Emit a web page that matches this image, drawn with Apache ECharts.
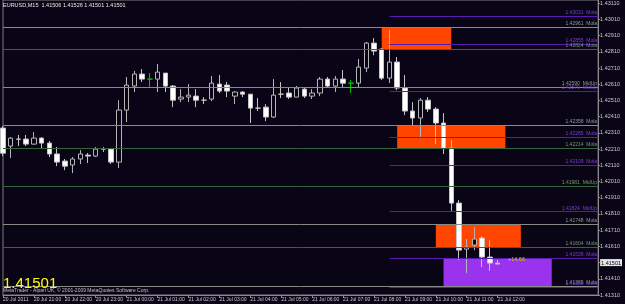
<!DOCTYPE html>
<html>
<head>
<meta charset="utf-8">
<title>EURUSD,M15</title>
<script src="https://cdn.jsdelivr.net/npm/echarts@6/dist/echarts.min.js"></script>
<style>
  html, body { margin: 0; padding: 0; background: #0a0516; }
  #chart { width: 625px; height: 304px; }
</style>
</head>
<body>
<div id="chart"></div>
<script>
// hour labels on the time axis, one every 4 bars (M15)
const tickLabels = ['20 Jul 2011', '20 Jul 21:00', '20 Jul 22:00', '20 Jul 23:00', '21 Jul 00:00', '21 Jul 01:00',
  '21 Jul 02:00', '21 Jul 03:00', '21 Jul 04:00', '21 Jul 05:00', '21 Jul 06:00', '21 Jul 07:00', '21 Jul 08:00',
  '21 Jul 09:00', '21 Jul 10:00', '21 Jul 11:00', '21 Jul 12:00']
const barsPerLabel = 4
const slotCount = 78 // bars + empty chart shift on the right

const open = [1.42340, 1.42229, 1.42272, 1.42272, 1.42241, 1.42278, 1.42247, 1.42180, 1.42136, 1.42112,
  1.42149, 1.42173, 1.42167, 1.42210, 1.42210, 1.42130, 1.42451, 1.42599, 1.42673, 1.42642,
  1.42642, 1.42679, 1.42599, 1.42519, 1.42531, 1.42537, 1.42512, 1.42519, 1.42611, 1.42605,
  1.42537, 1.42562, 1.42549, 1.42463, 1.42469, 1.42408, 1.42549, 1.42556, 1.42531, 1.42580,
  1.42537, 1.42556, 1.42642, 1.42599, 1.42642, 1.42617, 1.42617, 1.42710, 1.42864, 1.42827,
  1.42648, 1.42747, 1.42587, 1.42445, 1.42402, 1.42512, 1.42457, 1.42371, 1.42217, 1.41877,
  1.41593, 1.41618, 1.41661, 1.41544, 1.41506]
const close = [1.42185, 1.42278, 1.42271, 1.42241, 1.42278, 1.42247, 1.42180, 1.42130, 1.42105, 1.42149,
  1.42180, 1.42167, 1.42210, 1.42211, 1.42130, 1.42451, 1.42605, 1.42673, 1.42642, 1.42642,
  1.42685, 1.42599, 1.42512, 1.42531, 1.42543, 1.42512, 1.42512, 1.42617, 1.42568, 1.42568,
  1.42562, 1.42549, 1.42463, 1.42463, 1.42408, 1.42543, 1.42549, 1.42531, 1.42587, 1.42537,
  1.42556, 1.42642, 1.42599, 1.42642, 1.42617, 1.42617, 1.42716, 1.42864, 1.42815, 1.42648,
  1.42747, 1.42587, 1.42445, 1.42402, 1.42512, 1.42457, 1.42371, 1.42217, 1.41877, 1.41587,
  1.41606, 1.41655, 1.41544, 1.41507, 1.41501]
const low = [1.42167, 1.42155, 1.42229, 1.42229, 1.42238, 1.42216, 1.42161, 1.42105, 1.42080, 1.42062,
  1.42118, 1.42124, 1.42161, 1.42192, 1.42118, 1.42093, 1.42377, 1.42562, 1.42624, 1.42593,
  1.42562, 1.42562, 1.42469, 1.42500, 1.42500, 1.42469, 1.42488, 1.42506, 1.42556, 1.42531,
  1.42488, 1.42531, 1.42371, 1.42445, 1.42383, 1.42402, 1.42525, 1.42519, 1.42531, 1.42525,
  1.42519, 1.42537, 1.42587, 1.42562, 1.42593, 1.42556, 1.42593, 1.42685, 1.42790, 1.42636,
  1.42618, 1.42574, 1.42420, 1.42358, 1.42278, 1.42439, 1.42241, 1.42180, 1.41822, 1.41525,
  1.41445, 1.41587, 1.41482, 1.41458, 1.41501]
const high = [1.42352, 1.42284, 1.42297, 1.42297, 1.42315, 1.42284, 1.42260, 1.42223, 1.42149, 1.42161,
  1.42204, 1.42186, 1.42223, 1.42223, 1.42216, 1.42512, 1.42655, 1.42692, 1.42704, 1.42679,
  1.42735, 1.42679, 1.42605, 1.42580, 1.42611, 1.42580, 1.42531, 1.42661, 1.42667, 1.42624,
  1.42568, 1.42568, 1.42549, 1.42525, 1.42488, 1.42642, 1.42624, 1.42593, 1.42599, 1.42593,
  1.42580, 1.42655, 1.42655, 1.42661, 1.42698, 1.42636, 1.42766, 1.42871, 1.42895, 1.42833,
  1.42945, 1.42778, 1.42667, 1.42500, 1.42525, 1.42531, 1.42469, 1.42432, 1.42266, 1.41896,
  1.41655, 1.41729, 1.41673, 1.41649, 1.41526]
const greenDoji = [19, 45]

// horizontal levels drawn across the whole chart
const grayLevels = [1.42961, 1.42590, 1.42358, 1.41748, 1.41365]
const grayNames = ['Mola', 'MidUp', 'Mola', 'Mola', 'Mola']
const greenLevels = [1.42824, 1.42214, 1.41981, 1.41604]
const greenNames = ['Mola', 'Mola', 'MidUp', 'Mola']
// levels that start later (bar index in purpleStart)
const purpleLevels = [1.43031, 1.42855, 1.42570, 1.42285, 1.42109, 1.41824, 1.41539, 1.41356]
const purpleNames = ['Mola', 'Mola', 'MidUp', 'Mola', 'Mola', 'MidUp', 'Mola', 'Mola']
const purpleStart = 50

// zones: [from bar, to bar, top price, bottom price]
const orangeZones = [[49, 58, 1.42961, 1.42824], [51, 65, 1.42358, 1.42214], [56, 67, 1.41748, 1.41604]]
const violetZone = [57, 71, 1.41539, 1.41356]

const lastPrice = '1.41501'
const headerText = 'EURUSD,M15  1.41506 1.41526 1.41501 1.41501'
const profitText = '+14.66'

const FONT = 'Liberation Sans'
const BG = '#0a0516'

const slots = Array.from({ length: slotCount }, (_, i) => 'b' + i)
const isHourTick = i => i % barsPerLabel === 0 && i / barsPerLabel < tickLabels.length

const candleData = open.map((o, i) => {
  const item = { value: [o, close[i], low[i], high[i]] }
  if (greenDoji.includes(i)) {
    item.itemStyle = { color: '#00b000', color0: '#00b000', borderColor: '#00c000', borderColor0: '#00c000', borderColorDoji: '#00c000' }
  }
  return item
})

const levelLine = (p, name, from, lineColor, textColor) => [
  {
    coord: [from, p],
    lineStyle: { color: lineColor, width: 1, type: 'solid' },
    label: { formatter: p.toFixed(5) + '  ' + name, color: textColor }
  },
  { coord: [slotCount - 1, p] }
]

const lines = []
grayLevels.forEach((p, i) => lines.push(levelLine(p, grayNames[i], 0, '#848c84', '#8c9c8c')))
greenLevels.forEach((p, i) => lines.push(levelLine(p, greenNames[i], 0, '#33663a', '#6a9a6a')))
purpleLevels.forEach((p, i) => lines.push(levelLine(p, purpleNames[i], purpleStart, '#5a1cb0', '#7a3cd8')))

const zones = orangeZones.map(z => [
  { coord: [z[0], z[2]], itemStyle: { color: '#ff4500' } },
  { coord: [z[1], z[3]] }
])
zones.push([
  { coord: [violetZone[0], violetZone[2]], itemStyle: { color: '#9933ee' } },
  { coord: [violetZone[1], violetZone[3]] }
])

const chart = echarts.init(document.getElementById('chart'))
chart.setOption({
  backgroundColor: BG,
  animation: false,
  grid: { left: 1, right: 18.8, top: 0, bottom: 9, show: true, borderColor: '#7c7c7c', borderWidth: 1 },
  xAxis: {
    type: 'category',
    data: slots,
    boundaryGap: false,
    axisLine: { lineStyle: { color: '#8a8a8a', width: 1 } },
    axisTick: { interval: isHourTick, length: 3, lineStyle: { color: '#8a8a8a' } },
    axisLabel: {
      interval: isHourTick,
      formatter: (v, i) => tickLabels[i / barsPerLabel],
      align: 'left',
      fontSize: 5,
      fontFamily: FONT,
      color: '#c8c8c8',
      margin: 2
    },
    splitLine: { show: false }
  },
  yAxis: {
    type: 'value',
    position: 'right',
    min: 1.4131,
    max: 1.4313,
    interval: 0.001,
    axisLine: { show: true, lineStyle: { color: '#8a8a8a' } },
    axisTick: { show: true, length: 2, lineStyle: { color: '#8a8a8a' } },
    axisLabel: {
      fontSize: 5.5,
      fontFamily: FONT,
      color: '#c8c8c8',
      margin: 2,
      showMaxLabel: false,
      formatter: v => (Math.abs(v - 1.4151) < 1e-7 ? '{cur|' + lastPrice + '}' : v.toFixed(5)),
      rich: { cur: { backgroundColor: '#e6e6e6', color: '#000000', fontSize: 5.5, fontFamily: FONT, padding: [1, 1, 0, 1] } }
    },
    splitLine: { show: false }
  },
  graphic: [
    { type: 'text', left: 3, top: 2, z: 10, style: { text: headerText, fill: '#e8e8e8', font: '5.5px ' + FONT } },
    { type: 'text', left: 3, top: 288.5, z: 10, style: { text: 'MetaTrader - Alpari UK, \u00a9 2001-2009 MetaQuotes Software Corp.', fill: '#c0c0c0', font: '5px ' + FONT } },
    { type: 'text', left: 3, top: 276, z: 11, style: { text: lastPrice, fill: '#ffff00', font: '15px ' + FONT } },
    { type: 'text', left: 508, top: 256, z: 10, style: { text: profitText, fill: '#d8c800', font: '5.5px ' + FONT } }
  ],
  series: [
    {
      type: 'line',
      data: [],
      z: 1,
      silent: true,
      markArea: { silent: true, data: zones }
    },
    {
      type: 'line',
      data: [],
      z: 2,
      silent: true,
      markLine: {
        symbol: 'none',
        silent: true,
        label: { position: 'insideEndTop', fontSize: 5, fontFamily: FONT, distance: 1 },
        data: lines
      }
    },
    {
      type: 'candlestick',
      data: candleData,
      barWidth: 5,
      z: 3,
      itemStyle: {
        color: BG,
        color0: '#ffffff',
        borderColor: '#b4b4b4',
        borderColor0: '#c4c4c4',
        borderColorDoji: '#c4c4c4',
        borderWidth: 1
      }
    }
  ]
})
</script>
</body>
</html>
